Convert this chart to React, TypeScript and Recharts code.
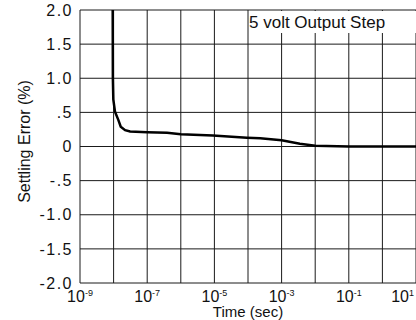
import { LineChart, Line, XAxis, YAxis, CartesianGrid, Label } from 'recharts';

// settling curve (time in seconds, error in %)
const times = [
  9.4e-9, 9.5e-9, 9.8e-9, 1.1e-8, 1.38e-8, 1.63e-8, 2.2e-8, 3.1e-8, 1e-7, 3.9e-7, 1e-6, 9e-6, 9.3e-5,
  2.3e-4, 1e-3, 3.5e-3, 1e-2, 1e-1, 1, 10,
];
const errors = [
  2.0, 1.0, 0.69, 0.51, 0.39, 0.29, 0.24, 0.22, 0.21, 0.2, 0.18, 0.16, 0.13, 0.12, 0.09, 0.04, 0.01, 0, 0, 0,
];

const xTicks = [1e-9, 1e-8, 1e-7, 1e-6, 1e-5, 1e-4, 1e-3, 1e-2, 1e-1, 1, 10];
const xExponents = ['-9', '', '-7', '', '-5', '', '-3', '', '-1', '', '1'];

const yTicks = [-2, -1.5, -1, -0.5, 0, 0.5, 1, 1.5, 2];
const yLabels = ['-2.0', '-1.5', '-1.0', '-.5', '0', '.5', '1.0', '1.5', '2.0'];

const chartTitle = '5 volt Output Step';
const xTitle = 'Time (sec)';
const yTitle = 'Settling Error (%)';

const data = times.map((t, i) => ({ t, err: errors[i] }));

const FONT = '"Liberation Sans", Arial, Helvetica, sans-serif';

function TimeTick({ x, y, payload }: any) {
  const idx = xTicks.indexOf(payload.value);
  const exp = xExponents[idx];
  if (!exp) return null;
  // last label sits on the right edge of the plot, keep it inside the picture
  const anchor = idx === xTicks.length - 1 ? 'end' : 'middle';
  return (
    <text x={x - (anchor === 'end' ? 2 : 0)} y={y + 19} textAnchor={anchor} fontFamily={FONT} fontSize={16} fill="#111">
      <tspan>10</tspan>
      <tspan dy={-6} fontSize={9}>{exp}</tspan>
    </text>
  );
}

export default function App() {
  return (
    <div style={{ position: 'absolute', left: 0, top: 0, width: 416, height: 320, background: '#fff' }}>
      <LineChart width={416} height={320} data={data} margin={{ top: 10, right: 0, left: 0, bottom: 0 }}>
        <CartesianGrid stroke="#1a1a1a" strokeWidth={1} />
        <XAxis
          dataKey="t"
          type="number"
          scale="log"
          domain={[1e-9, 10]}
          ticks={xTicks}
          interval={0}
          allowDataOverflow
          axisLine={false}
          tickLine={false}
          tickSize={0}
          tickMargin={0}
          height={37}
          tick={<TimeTick />}
          label={{
            content: ({ viewBox }: any) => (
              <text
                x={viewBox.x + viewBox.width / 2}
                y={viewBox.y + 34}
                textAnchor="middle"
                fontFamily={FONT}
                fontSize={15}
                fill="#111"
              >
                {xTitle}
              </text>
            ),
          }}
        />
        <YAxis
          type="number"
          domain={[-2, 2]}
          ticks={yTicks}
          interval={0}
          allowDataOverflow
          axisLine={false}
          tickLine={false}
          tickSize={0}
          tickMargin={7}
          width={80}
          tickFormatter={(v: number) => yLabels[yTicks.indexOf(v)] ?? ''}
          tick={{ fontFamily: FONT, fontSize: 16, fill: '#111', letterSpacing: 1.5 }}
          label={{
            content: ({ viewBox }: any) => (
              <text
                x={30}
                y={viewBox.y + viewBox.height / 2 - 5}
                transform={`rotate(-90 30 ${viewBox.y + viewBox.height / 2 - 5})`}
                textAnchor="middle"
                fontFamily={FONT}
                fontSize={16}
                fill="#111"
              >
                {yTitle}
              </text>
            ),
          }}
        >
          <Label
            content={() => (
              <g>
                <rect x={249} y={11} width={167} height={22} fill="#fff" />
                <text x={249} y={28} fontFamily={FONT} fontSize={17} fill="#111">
                  {chartTitle}
                </text>
              </g>
            )}
          />
        </YAxis>
        <Line
          type="linear"
          dataKey="err"
          stroke="#000"
          strokeWidth={2.5}
          dot={false}
          isAnimationActive={false}
        />
      </LineChart>
    </div>
  );
}
